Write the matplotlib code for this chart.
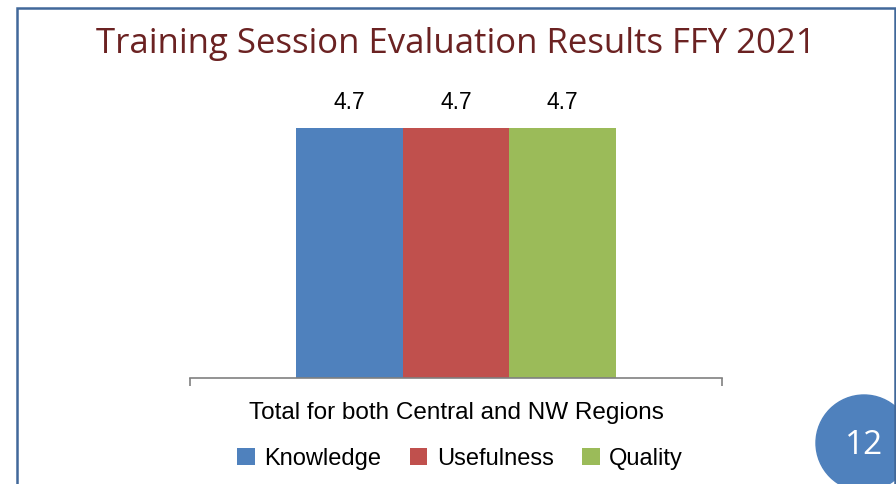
import matplotlib
matplotlib.use("Agg")
import matplotlib.pyplot as plt
from matplotlib.patches import Ellipse, Rectangle

# data
title = "Training Session Evaluation Results FFY 2021"
category = "Total for both Central and NW Regions"
series = ["Knowledge", "Usefulness", "Quality"]
values = [4.7, 4.7, 4.7]
colors = ["#4f81bd", "#c0504d", "#9bbb59"]
page_no = "12"

narrow = ["Liberation Sans", "DejaVu Sans"]

W, H = 896, 484
fig = plt.figure(figsize=(W / 100, H / 100), dpi=100)
fig.patch.set_facecolor("white")

ax = fig.add_axes([190 / W, 1 - 378 / H, 532 / W, (378 - 112) / H])
width = 0.2
for i, (name, v, c) in enumerate(zip(series, values, colors)):
    x = (i - 1) * width
    ax.bar(x, v, width=width, color=c, label=name, zorder=2)
    ax.text(x, v + 0.27, "%.1f" % v, ha="center", va="bottom",
            fontsize=16.5, family=narrow, color="black")

ax.set_xlim(-0.5, 0.5)
ax.set_ylim(0, 5)
ax.set_yticks([])
ax.set_xticks([-0.5, 0.5])
ax.set_xticklabels([])
ax.tick_params(axis="x", length=6, width=1.2, color="#808080", direction="out")
for s in ["top", "left", "right"]:
    ax.spines[s].set_visible(False)
ax.spines["bottom"].set_color("#808080")
ax.spines["bottom"].set_linewidth(1.2)
ax.patch.set_alpha(0)

fig.text(456 / W, 1 - 413 / H, category, ha="center", va="center",
         fontsize=17.5, family=narrow)

leg = fig.legend(loc="center", bbox_to_anchor=(460 / W, 1 - 459 / H), ncol=3,
                 frameon=False, prop={"family": narrow, "size": 17},
                 handlelength=0.75, handleheight=0.75, handletextpad=0.4,
                 columnspacing=1.2)

fig.text(456 / W, 1 - 44 / H, title, ha="center", va="center",
         fontsize=25, family=["Open Sans", "DejaVu Sans"], color="#6b2222")

# page number badge
fig.patches.append(Ellipse((864 / W, 1 - 443 / H), 96 / W, 96 / H,
                           transform=fig.transFigure, color="#4f81bd", zorder=5))
fig.text(864 / W, 1 - 446 / H, page_no, ha="center", va="center",
         fontsize=24, color="white", family=["Open Sans", "DejaVu Sans"], zorder=6)

# slide frame
fig.patches.append(Rectangle((17 / W, -0.1), (895 - 17) / W, 1.1 - 8 / H,
                             transform=fig.transFigure, fill=False,
                             edgecolor="#41689a", linewidth=1.8, zorder=7))

fig.savefig("out.png", dpi=100)
